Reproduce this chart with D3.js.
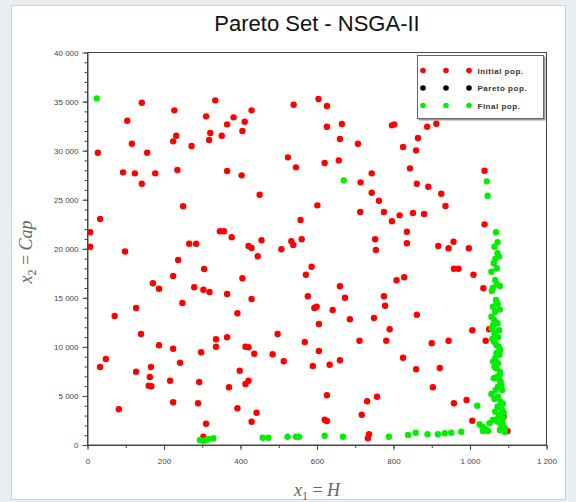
<!DOCTYPE html>
<html>
<head>
<meta charset="utf-8">
<script src="https://cdn.jsdelivr.net/npm/d3@7"></script>
<style>
  body { margin: 0; background: #e9eef2; }
  svg { display: block; }
  .tick text { font-family: "Liberation Sans", Arial, sans-serif; font-size: 8px; fill: #444; }
  .axis path, .axis line { stroke: #444; }
  .math { font-family: "Liberation Serif", "Times New Roman", serif; fill: #666; }
</style>
</head>
<body>
<svg id="chart"></svg>
<script>
// initial population (H, Cap)
const initialPop = [
  [142, 34880], [227, 34106], [334, 35125], [539, 34677], [604, 35257], [104, 33046],
  [310, 33495], [382, 33393], [365, 32679], [411, 32944], [429, 34106], [405, 31997],
  [321, 31793], [318, 31080], [351, 31518], [232, 31518], [224, 30947], [116, 30702],
  [156, 29785], [272, 30468], [27, 29785], [524, 29317], [545, 28298], [93, 27788],
  [124, 27686], [177, 27686], [142, 26626], [235, 28023], [365, 27921], [403, 27482],
  [450, 25506], [601, 24425], [250, 24324], [33, 23029], [557, 22928], [7, 21674],
  [346, 21776], [357, 21776], [377, 21165], [560, 20961], [455, 20859], [533, 20757],
  [266, 20512], [284, 20512], [7, 20207], [421, 20278], [429, 20074], [507, 19942],
  [538, 20380], [98, 19718], [237, 18852], [305, 17934], [224, 17221], [171, 16477],
  [187, 15927], [279, 16070], [303, 15825], [319, 15591], [365, 15387], [405, 16987],
  [429, 14877], [445, 19229], [586, 18169], [571, 17354], [576, 15153], [593, 13960],
  [599, 14093], [605, 12330], [248, 14470], [127, 13960], [71, 13145], [392, 13420],
  [140, 11311], [187, 10159], [224, 9813], [336, 10771], [336, 10017], [365, 10975],
  [413, 10017], [421, 9956], [436, 9303], [497, 11311], [484, 9242], [513, 8529],
  [568, 10496], [605, 9579], [589, 8050], [297, 9446], [242, 8386], [48, 8763],
  [33, 7948], [166, 7948], [127, 7469], [163, 6929], [160, 6043], [167, 5982],
  [216, 6552], [292, 6420], [398, 7571], [370, 5880], [413, 6216], [421, 6552],
  [224, 4351], [289, 4249], [82, 3638], [392, 3740], [442, 3291], [429, 2374],
  [310, 2170], [303, 846], [752, 20961], [754, 19871], [835, 21735], [835, 20553],
  [917, 20278], [944, 20044], [957, 20716], [997, 20044], [958, 17965], [970, 17965],
  [1009, 17354], [808, 16783], [828, 17089], [660, 16172], [673, 15010], [641, 13757],
  [775, 15153], [778, 14195], [1035, 15968], [686, 12809], [749, 12941], [861, 13278],
  [790, 11790], [1006, 11688], [1050, 11790], [711, 10628], [781, 10628], [900, 10363],
  [944, 10628], [1041, 10628], [633, 8183], [660, 8631], [825, 8896], [859, 7714],
  [921, 7846], [903, 5880], [626, 5064], [757, 4922], [731, 4453], [958, 4249],
  [991, 4586], [717, 3088], [620, 2578], [626, 2446], [1006, 2476], [736, 1090],
  [733, 683], [1098, 1427], [1088, 2884], [626, 34544], [626, 32435], [665, 32710],
  [660, 31181], [707, 30702], [620, 28736], [657, 29011], [796, 32577], [802, 32679],
  [888, 32435], [912, 32740], [864, 31283], [825, 30366], [859, 30030], [843, 28196],
  [743, 27686], [714, 26769], [861, 26626], [891, 26321], [925, 25607], [936, 24354],
  [743, 25709], [762, 24894], [713, 23743], [775, 23743], [816, 23406], [796, 22795],
  [851, 23641], [880, 23539], [1038, 27951], [1038, 22489]
];

// final population (H, Cap)
const finalPop = [
  [24, 35329], [670, 26973], [1044, 26871], [1046, 25404], [1068, 21674], [1072, 20655],
  [1072, 19534], [1066, 18953], [1062, 18515], [1070, 18006], [1056, 17659], [1066, 16814],
  [1070, 16406], [1057, 15693], [1068, 14776], [1072, 14368], [1069, 14602], [1060, 14093],
  [1066, 13583], [1056, 13074], [1063, 12738], [1072, 12401], [1057, 11892], [1064, 11382],
  [1073, 10975], [1063, 10526], [1069, 10190], [1075, 10017], [1079, 9681], [1069, 9344],
  [1066, 8835], [1073, 8325], [1064, 7979], [1069, 7816], [1078, 7469], [1071, 6960],
  [1077, 6624], [1080, 6450], [1073, 5941], [1067, 5605], [1084, 5605], [1073, 4922],
  [1080, 4412], [1072, 3903], [1084, 3567], [1076, 3057], [1086, 2721], [1073, 2374],
  [1082, 1936], [1091, 1702], [1056, 5197], [1019, 4005], [1025, 2109], [1032, 1865],
  [1041, 1600], [1034, 1427], [1047, 1427], [1051, 2211], [1060, 2548], [1078, 1529],
  [1086, 1600], [1091, 1355], [977, 1355], [951, 1253], [934, 1192], [916, 1090],
  [889, 1090], [858, 1253], [838, 1019], [788, 845], [668, 845], [620, 948],
  [553, 845], [545, 845], [523, 845], [473, 744], [458, 744], [329, 683],
  [316, 581], [311, 510], [303, 438], [294, 510],
  [1078, 13800], [1060, 12200], [1076, 11700], [1058, 10800], [1077, 9200], [1060, 8500],
  [1078, 7200], [1062, 6800], [1082, 6100], [1064, 4700], [1086, 4200], [1066, 3400],
  [1088, 3300], [1068, 2600], [1085, 2200], [1078, 16200], [1060, 16000], [1076, 19200],
  [1064, 20200]
];

const paretoPop = [];

const legendLabels = ["Initial pop.", "Pareto pop.", "Final pop."];
const legendColors = ["#ff0000", "#000000", "#00ee00"];

const xTicks = [0, 200, 400, 600, 800, 1000, 1200];
const yTicks = [0, 5000, 10000, 15000, 20000, 25000, 30000, 35000, 40000];

const width = 576, height = 502;
const margin = { top: 52.5, right: 29.5, bottom: 57, left: 87.5 };

const svg = d3.select("#chart").attr("width", width).attr("height", height);

// figure panel
svg.append("rect")
  .attr("x", 11.5).attr("y", 5.5).attr("width", 554).attr("height", 494)
  .attr("fill", "#fff").attr("stroke", "#cfd3d6");

const xScale = d3.scaleLinear().domain([0, 1200]).range([margin.left, width - margin.right]);
const yScale = d3.scaleLinear().domain([0, 40000]).range([height - margin.bottom, margin.top]);

const fmt = d3.formatLocale({ decimal: ".", thousands: " ", grouping: [3], currency: ["", ""] }).format(",");

// minor ticks
svg.append("g").attr("class", "axis")
  .attr("transform", `translate(0,${yScale(0)})`)
  .call(d3.axisBottom(xScale).tickValues(d3.range(0, 1201, 100)).tickSize(3).tickFormat(""))
  .call(g => g.select(".domain").remove());
svg.append("g").attr("class", "axis")
  .attr("transform", `translate(${xScale(0)},0)`)
  .call(d3.axisLeft(yScale).tickValues(d3.range(0, 40001, 1000)).tickSize(3).tickFormat(""))
  .call(g => g.select(".domain").remove());

// major ticks
svg.append("g").attr("class", "axis")
  .attr("transform", `translate(0,${yScale(0)})`)
  .call(d3.axisBottom(xScale).tickValues(xTicks).tickSize(5).tickSizeOuter(0).tickPadding(8).tickFormat(fmt));
svg.append("g").attr("class", "axis")
  .attr("transform", `translate(${xScale(0)},0)`)
  .call(d3.axisLeft(yScale).tickValues(yTicks).tickSize(5).tickSizeOuter(0).tickPadding(4).tickFormat(fmt));

// plot box
svg.append("rect")
  .attr("x", xScale(0)).attr("y", yScale(40000))
  .attr("width", xScale(1200) - xScale(0)).attr("height", yScale(0) - yScale(40000))
  .attr("fill", "none").attr("stroke", "#444");

// points
const plot = svg.append("g");
plot.selectAll(".init").data(initialPop).join("circle")
  .attr("class", "init")
  .attr("cx", d => xScale(d[0])).attr("cy", d => yScale(d[1]))
  .attr("r", 3.2).attr("fill", legendColors[0]);
plot.selectAll(".pareto").data(paretoPop).join("circle")
  .attr("class", "pareto")
  .attr("cx", d => xScale(d[0])).attr("cy", d => yScale(d[1]))
  .attr("r", 3.2).attr("fill", legendColors[1]);
plot.selectAll(".final").data(finalPop).join("circle")
  .attr("class", "final")
  .attr("cx", d => xScale(d[0])).attr("cy", d => yScale(d[1]))
  .attr("r", 3.2).attr("fill", legendColors[2]);

// legend
const legend = svg.append("g").attr("transform", "translate(417.5,55.5)");
legend.append("rect").attr("x", 1).attr("y", 1).attr("width", 127).attr("height", 64)
  .attr("fill", "#999");
legend.append("rect").attr("width", 126).attr("height", 63)
  .attr("fill", "#fff").attr("stroke", "#666");
const items = legend.selectAll(".item").data(legendLabels).join("g")
  .attr("class", "item")
  .attr("transform", (d, i) => `translate(0,${15 + i * 17.5})`);
items.selectAll("circle").data((d, i) => [0, 1, 2].map(k => ({ k, c: legendColors[i] }))).join("circle")
  .attr("cx", d => 5.5 + d.k * 23).attr("cy", 0).attr("r", 2.8).attr("fill", d => d.c);
items.append("text").attr("x", 60).attr("y", 3)
  .style("font-family", "Liberation Sans, Arial, sans-serif").style("font-size", "8px")
  .style("font-weight", "bold").style("letter-spacing", "0.5px").attr("fill", "#333")
  .text(d => d);

// title
svg.append("text")
  .attr("x", 317).attr("y", 31).attr("text-anchor", "middle")
  .style("font-family", "Liberation Sans, Arial, sans-serif").style("font-size", "22px")
  .attr("fill", "#111").text("Pareto Set - NSGA-II");

// axis labels
const xl = svg.append("text").attr("class", "math")
  .attr("x", 317).attr("y", 496).attr("text-anchor", "middle").style("font-size", "18px");
xl.append("tspan").style("font-style", "italic").text("x");
xl.append("tspan").attr("dy", 4).style("font-size", "12px").text("1");
xl.append("tspan").attr("dy", -4).text(" = ");
xl.append("tspan").style("font-style", "italic").text("H");

const yl = svg.append("text").attr("class", "math")
  .attr("transform", "translate(32,252) rotate(-90)").attr("text-anchor", "middle").style("font-size", "18px");
yl.append("tspan").style("font-style", "italic").text("x");
yl.append("tspan").attr("dy", 4).style("font-size", "12px").text("2");
yl.append("tspan").attr("dy", -4).text(" = ");
yl.append("tspan").style("font-style", "italic").text("Cap");
</script>
</body>
</html>
